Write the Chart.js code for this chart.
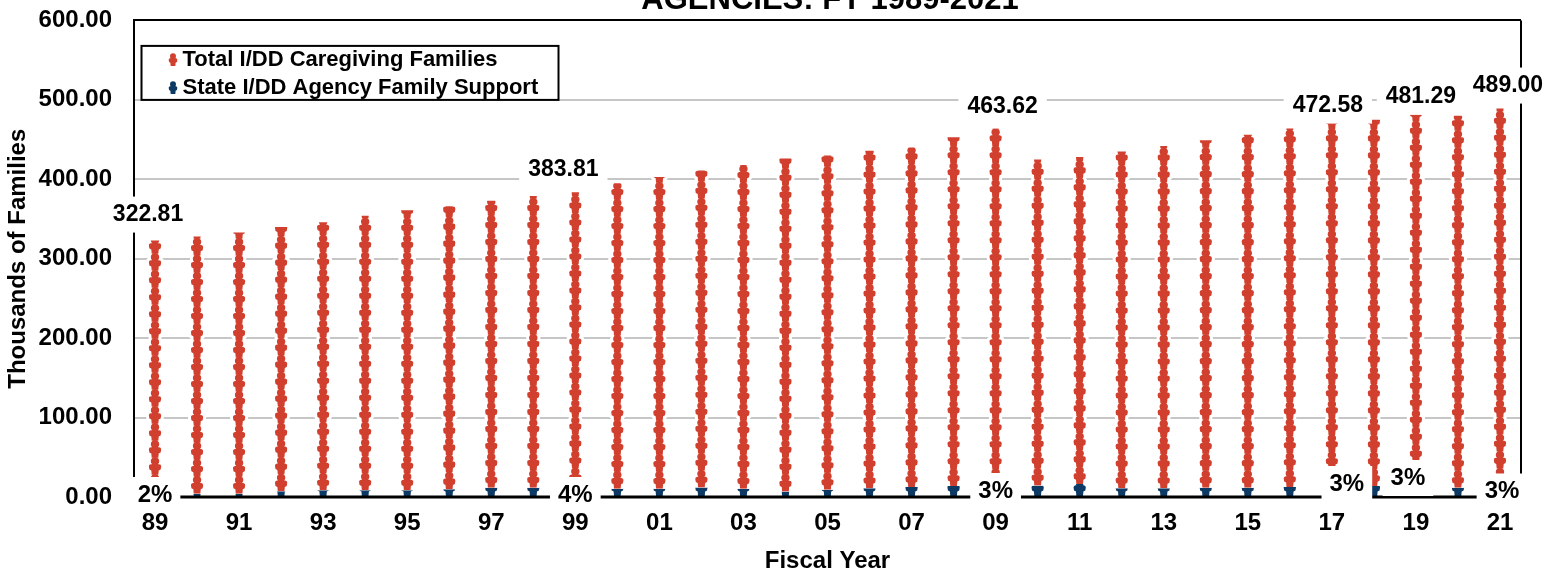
<!DOCTYPE html>
<html>
<head>
<meta charset="utf-8">
<script src="https://cdn.jsdelivr.net/npm/chart.js@4.4.1/dist/chart.umd.min.js"></script>
<style>
  html, body { margin: 0; padding: 0; background: #fff; }
  #wrap { width: 1560px; height: 576px; }
</style>
</head>
<body>
<div id="wrap"><canvas id="myChart" width="1560" height="576"></canvas></div>
<script>
// data (thousands of families)
const years = ["89", "90", "91", "92", "93", "94", "95", "96", "97", "98",
  "99", "00", "01", "02", "03", "04", "05", "06", "07", "08",
  "09", "10", "11", "12", "13", "14", "15", "16", "17", "18",
  "19", "20", "21"];

const totalFamilies = [322.81, 328, 333, 340, 346, 354, 361, 366, 373, 379,
  383.81, 395, 403, 411, 418, 426, 430, 436, 440, 453,
  463.62, 425, 428, 435, 442, 449, 456, 464, 472.58, 475,
  481.29, 480, 489.0];

const agencySupport = [6.5, 4.2, 4.2, 7.2, 8.4, 8.4, 8.4, 9.7, 11.8, 11.8,
  15, 10.5, 10.5, 12, 10.5, 7, 9, 11, 12.5, 14,
  14, 14.5, 16.3, 11, 11, 11.6, 11.6, 12.6, 14, 13.8,
  2, 11.5, 14.5];

const valueLabels = ["322.81", null, null, null, null, null, null, null, null, null,
  "383.81", null, null, null, null, null, null, null, null, null,
  "463.62", null, null, null, null, null, null, null, "472.58", null,
  "481.29", null, "489.00"];

const pctLabels = ["2%", null, null, null, null, null, null, null, null, null,
  "4%", null, null, null, null, null, null, null, null, null,
  "3%", null, null, null, null, null, null, null, "3%", null,
  "3%", null, "3%"];

const seriesNames = ["Total I/DD Caregiving Families", "State I/DD Agency Family Support"];

const RED = "#d13f2e";
const BLUE = "#0c3a64";
const FONT = '"Liberation Sans", Arial, sans-serif';
const ICON_H = 17;

// small hand placement of the labels, as in the original
const valueNudge = { 0: [-7, -4], 10: [-12, 0], 20: [7, 0], 28: [-4, 6], 30: [5, 4], 32: [8, -1] };
const pctNudge = { 0: [0, -2], 10: [0, -2], 20: [0, -6], 28: [15, -13], 30: [-8, -19], 32: [2, -5.5] };

function personPath(ctx, cx, bottom, h) {
  const s = h / 17;
  const w = s * 1.28;
  const t = bottom - h;
  ctx.beginPath();
  ctx.moveTo(cx + 3.3 * w, t + 3.4 * s);
  ctx.arc(cx, t + 3.4 * s, 3.3 * w, 0, Math.PI * 2);
  ctx.moveTo(cx - 3.2 * w, t + 6.3 * s);
  ctx.lineTo(cx + 3.2 * w, t + 6.3 * s);
  ctx.quadraticCurveTo(cx + 4.8 * w, t + 6.5 * s, cx + 4.8 * w, t + 8.4 * s);
  ctx.lineTo(cx + 4.4 * w, t + 11.6 * s);
  ctx.lineTo(cx + 2.9 * w, t + 12.6 * s);
  ctx.lineTo(cx + 2.6 * w, t + 17 * s);
  ctx.lineTo(cx - 2.6 * w, t + 17 * s);
  ctx.lineTo(cx - 2.9 * w, t + 12.6 * s);
  ctx.lineTo(cx - 4.4 * w, t + 11.6 * s);
  ctx.lineTo(cx - 4.8 * w, t + 8.4 * s);
  ctx.quadraticCurveTo(cx - 4.8 * w, t + 6.5 * s, cx - 3.2 * w, t + 6.3 * s);
  ctx.closePath();
}

function boxedText(ctx, text, x, y, padX, padY) {
  const w = ctx.measureText(text).width;
  ctx.fillStyle = "#fff";
  ctx.fillRect(x - w / 2 - padX, y - 8 - padY, w + 2 * padX, 16 + 2 * padY);
  ctx.fillStyle = "#000";
  ctx.fillText(text, x, y);
}

const frame = {
  id: "frame",
  beforeDatasetsDraw(chart) {
    const { ctx, chartArea } = chart;
    ctx.save();
    ctx.strokeStyle = "#000";
    ctx.lineWidth = 2;
    ctx.beginPath();
    ctx.moveTo(chartArea.right, chartArea.top);
    ctx.lineTo(chartArea.right, chartArea.bottom);
    ctx.stroke();
    ctx.restore();
  }
};

const pictograph = {
  id: "pictograph",
  afterDatasetsDraw(chart) {
    const { ctx, chartArea } = chart;
    const yScale = chart.scales.y;

    chart.data.datasets.forEach((ds, di) => {
      const meta = chart.getDatasetMeta(di);
      meta.data.forEach((bar) => {
        const top = Math.min(bar.y, bar.base);
        const bottom = Math.max(bar.y, bar.base);
        if (bottom - top < 0.5) return;
        ctx.save();
        ctx.beginPath();
        ctx.rect(bar.x - 20, top, 40, bottom - top);
        ctx.clip();
        ctx.strokeStyle = "#fff";
        ctx.lineWidth = 6;
        ctx.lineJoin = "round";
        for (let b = bottom; b > top; b -= ICON_H) {
          personPath(ctx, bar.x, b, ICON_H);
          ctx.stroke();
        }
        ctx.fillStyle = ds.iconColor;
        for (let b = bottom; b > top; b -= ICON_H) {
          personPath(ctx, bar.x, b, ICON_H);
          ctx.fill();
        }
        ctx.restore();
      });
    });

    // baseline
    const y0 = yScale.getPixelForValue(0);
    ctx.save();
    ctx.strokeStyle = "#000";
    ctx.lineWidth = 3;
    ctx.beginPath();
    ctx.moveTo(chartArea.left, y0);
    ctx.lineTo(chartArea.right, y0);
    ctx.stroke();

    // labels
    const bars = chart.getDatasetMeta(0).data;
    ctx.font = "bold 23px " + FONT;
    ctx.textAlign = "center";
    ctx.textBaseline = "middle";
    valueLabels.forEach((txt, i) => {
      if (!txt) return;
      const n = valueNudge[i] || [0, 0];
      const y = yScale.getPixelForValue(totalFamilies[i]) - 22 + n[1];
      boxedText(ctx, txt, bars[i].x + n[0], y, 9, 10);
    });
    ctx.font = "bold 24px " + FONT;
    pctLabels.forEach((txt, i) => {
      if (!txt) return;
      const n = pctNudge[i] || [0, 0];
      boxedText(ctx, txt, bars[i].x + n[0], y0 + n[1], 8, 10);
    });
    ctx.restore();
  },
  afterDraw(chart) {
    const ctx = chart.ctx;
    const area = chart.chartArea;
    ctx.save();
    // title (only its lower line shows in the picture)
    ctx.font = "bold 31px " + FONT;
    ctx.fillStyle = "#000";
    ctx.textAlign = "center";
    ctx.textBaseline = "alphabetic";
    ctx.fillText("AGENCIES: FY 1989-2021", 830, 9);

    // legend
    const lx = area.left + 7.5, ly = area.top + 25.5;
    ctx.fillStyle = "#fff";
    ctx.fillRect(lx, ly, 417, 54);
    ctx.strokeStyle = "#000";
    ctx.lineWidth = 2;
    ctx.strokeRect(lx, ly, 417, 54);
    ctx.font = "bold 22px " + FONT;
    ctx.textAlign = "left";
    ctx.textBaseline = "middle";
    [[seriesNames[0], RED], [seriesNames[1], BLUE]].forEach((e, k) => {
      const cy = ly + 14 + k * 28;
      ctx.fillStyle = e[1];
      personPath(ctx, lx + 31.5, cy + 6, 12);
      ctx.fill();
      ctx.fillStyle = "#000";
      ctx.fillText(e[0], lx + 41, cy);
    });
    ctx.restore();
  }
};

const ctx = document.getElementById("myChart");

const myChart = new Chart(ctx, {
  type: "bar",
  data: {
    labels: years,
    datasets: [
      {
        label: seriesNames[1],
        data: agencySupport,
        backgroundColor: "rgba(0,0,0,0)",
        iconColor: BLUE,
        barThickness: 18,
      },
      {
        label: seriesNames[0],
        data: totalFamilies.map((t, i) => t - agencySupport[i]),
        backgroundColor: "rgba(0,0,0,0)",
        iconColor: RED,
        barThickness: 18,
      },
    ],
  },
  options: {
    responsive: false,
    animation: false,
    devicePixelRatio: 1,
    layout: { padding: { top: 0, right: 39, left: 0, bottom: 0 } },
    plugins: {
      legend: { display: false },
      tooltip: { enabled: false },
    },
    scales: {
      x: {
        stacked: true,
        grid: { display: false, drawTicks: false },
        border: { display: false },
        ticks: {
          autoSkip: false,
          maxRotation: 0,
          padding: 12,
          color: "#000",
          font: { family: FONT, size: 24, weight: "bold" },
          callback: (v, i) => (i % 2 === 0 ? years[i] : ""),
        },
        title: {
          display: true,
          text: "Fiscal Year",
          color: "#000",
          font: { family: FONT, size: 24, weight: "bold" },
          padding: { top: 0, bottom: 0 },
        },
        afterFit: (scale) => { scale.height = 79; },
      },
      y: {
        stacked: true,
        min: 0,
        max: 600,
        grid: {
          drawTicks: true,
          tickLength: 16,
          tickColor: "rgba(0,0,0,0)",
          lineWidth: 2,
          color: (c) => (c.tick.value === 600 ? "#000" : c.tick.value === 0 ? "rgba(0,0,0,0)" : "#c6c6c6"),
        },
        border: { display: true, color: "#000", width: 2 },
        ticks: {
          stepSize: 100,
          padding: 6,
          color: "#000",
          font: { family: FONT, size: 24, weight: "bold" },
          callback: (v) => v.toFixed(2),
        },
        title: {
          display: true,
          text: "Thousands of Families",
          color: "#000",
          font: { family: FONT, size: 24, weight: "bold" },
          padding: { top: 4, bottom: 0 },
        },
        afterFit: (scale) => { scale.width = 134; },
      },
    },
  },
  plugins: [frame, pictograph],
});
</script>
</body>
</html>
